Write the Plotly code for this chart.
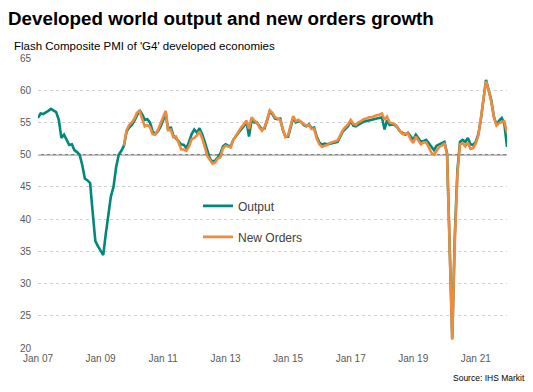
import pandas as pd
import plotly.graph_objects as go

# ---- data ----
output_start = "2007-01-01"
output_pmi = [
    55.7, 56.4, 56.3, 56.5, 56.8, 57.1, 56.9, 56.6, 55.4, 52.6, 53.1, 52.4,   # 2007
    51.5, 51.6, 50.7, 50.4, 50.0, 48.4, 46.3, 46.0, 45.6, 41.0, 36.6, 35.8,   # 2008
    35.0, 34.4, 37.5, 41.0, 43.5, 45.0, 48.0, 50.0, 50.6, 51.4, 53.6, 54.2,   # 2009
    54.6, 55.3, 56.0, 56.9, 56.3, 55.4, 55.5, 55.0, 53.6, 53.2, 53.6, 54.3,   # 2010
    55.3, 56.5, 53.8, 54.3, 53.0, 52.5, 52.0, 51.6, 51.5, 51.0, 52.0, 53.2,   # 2011
    53.9, 53.4, 54.1, 53.2, 52.0, 50.8, 49.4, 48.9, 49.1, 49.6, 50.2, 51.3,   # 2012
    51.6, 51.4, 51.3, 52.3, 52.9, 53.4, 53.9, 54.4, 55.1, 52.8, 55.4, 55.0,   # 2013
    55.0, 54.4, 53.9, 54.1, 55.3, 56.7, 56.3, 55.6, 55.5, 55.6, 53.8, 52.8,   # 2014
    52.8, 54.6, 55.7, 55.0, 55.2, 55.1, 54.6, 54.4, 54.7, 54.1, 54.2, 52.8,   # 2015
    51.9, 51.5, 51.7, 51.6, 51.7, 51.8, 51.9, 52.0, 52.8, 53.6, 54.0, 54.4,   # 2016
    55.2, 54.5, 54.4, 54.7, 54.9, 55.1, 55.2, 55.3, 55.4, 55.5, 55.6, 55.7,   # 2017
    55.8, 53.9, 55.3, 54.6, 54.7, 54.6, 54.2, 53.6, 53.3, 53.1, 53.4, 52.8,   # 2018
    52.3, 53.1, 52.6, 52.0, 52.1, 52.3, 51.8, 51.2, 50.7, 51.4, 51.6, 51.8,   # 2019
    52.0, 50.2, 37.3, 21.5, 37.3, 47.6, 52.0, 52.3, 52.0, 52.6, 51.6, 51.5,   # 2020
    52.0, 53.2, 55.4, 58.8, 61.6, 60.0, 58.5, 55.9, 54.6, 55.3, 55.7, 54.8,   # 2021
    51.2,                                                                     # 2022
]

orders_start = "2009-10-01"
new_orders_pmi = [
    51.4, 53.8, 54.6,                                                         # 2009
    55.0, 55.6, 56.5, 56.8, 55.6, 54.4, 54.6, 54.3, 53.2, 53.1, 53.8, 54.8,   # 2010
    55.8, 56.8, 53.8, 53.9, 52.7, 52.8, 51.9, 50.8, 50.8, 50.6, 51.3, 52.4,   # 2011
    52.6, 53.0, 53.6, 52.6, 51.3, 49.8, 49.2, 48.6, 48.8, 49.4, 49.6, 51.0,   # 2012
    51.4, 51.3, 51.1, 52.3, 53.0, 53.5, 54.2, 54.7, 55.3, 54.0, 55.8, 55.3,   # 2013
    55.0, 54.2, 53.7, 54.3, 55.4, 56.9, 56.5, 55.8, 55.6, 55.4, 53.9, 52.7,   # 2014
    53.0, 54.4, 56.0, 55.2, 55.4, 55.0, 54.8, 54.5, 54.6, 54.0, 54.0, 52.5,   # 2015
    51.6, 51.2, 51.4, 51.5, 51.8, 51.9, 52.1, 52.2, 53.0, 53.8, 54.3, 54.7,   # 2016
    55.4, 54.8, 54.6, 55.0, 55.2, 55.5, 55.6, 55.8, 55.8, 56.0, 56.1, 56.2,   # 2017
    56.4, 55.4, 55.9, 55.0, 54.8, 54.7, 54.3, 53.6, 53.2, 53.2, 53.3, 52.4,   # 2018
    51.8, 52.8, 52.2, 51.6, 51.9, 51.9, 51.2, 50.3, 50.0, 50.6, 51.2, 51.4,   # 2019
    51.8, 50.0, 35.8, 21.3, 36.5, 47.0, 51.6, 51.8, 51.3, 51.9, 50.9, 51.0,   # 2020
    51.7, 53.0, 55.6, 59.0, 61.4, 60.0, 58.2, 55.8, 54.5, 54.9, 55.0, 55.2,   # 2021
    53.4,                                                                     # 2022
]

tick_dates = ["2007-01-01", "2009-01-01", "2011-01-01", "2013-01-01",
              "2015-01-01", "2017-01-01", "2019-01-01", "2021-01-01"]
tick_labels = ["Jan 07", "Jan 09", "Jan 11", "Jan 13",
               "Jan 15", "Jan 17", "Jan 19", "Jan 21"]
y_ticks = [20, 25, 30, 35, 40, 45, 50, 55, 60, 65]
no_change_level = 50

output_dates = pd.date_range(output_start, periods=len(output_pmi), freq="MS")
orders_dates = pd.date_range(orders_start, periods=len(new_orders_pmi), freq="MS")

TEAL = "#00897b"
ORANGE = "#f08a3c"
FONT = "Liberation Sans, Arial, sans-serif"

# page body adds an 8px offset, so the figure is laid out 8px smaller
W, H = 525, 384
L, R, T, B = 27, 26, 50, 44
PW, PH = W - L - R, H - T - B

fig = go.Figure()
fig.add_trace(go.Scatter(x=output_dates, y=output_pmi, mode="lines", name="Output",
                         legendgroup="a", line=dict(color=TEAL, width=2.6)))
fig.add_trace(go.Scatter(x=orders_dates, y=new_orders_pmi, mode="lines", name="New Orders",
                         legendgroup="b", line=dict(color=ORANGE, width=2.6)))

fig.add_shape(type="line", xref="paper", x0=0, x1=1, yref="y",
              y0=no_change_level, y1=no_change_level,
              line=dict(color="#7f7f7f", width=1.5), layer="below")

fig.update_layout(
    width=W, height=H,
    margin=dict(l=L, r=R, t=T, b=B),
    paper_bgcolor="white", plot_bgcolor="white",
    font=dict(family=FONT, color="#595959", size=10),
    title=dict(text="<b>Developed world output and new orders growth</b>",
               font=dict(size=18.8, color="#000000", family=FONT),
               xref="container", x=0, xanchor="left",
               yref="container", y=1 - 10 / H, yanchor="middle"),
    showlegend=True,
    legend=dict(x=(188 - L) / PW, y=0.54, xanchor="left", yanchor="top",
                bgcolor="rgba(0,0,0,0)", tracegroupgap=12,
                font=dict(size=12, color="#404040"), itemwidth=30),
    xaxis=dict(range=["2007-01-01", "2022-01-01"], tickvals=tick_dates, ticktext=tick_labels,
               showgrid=False, showline=False, zeroline=False, ticks="",
               ticklabelstandoff=3,
               tickfont=dict(size=10, color="#595959")),
    yaxis=dict(range=[20, 65], tickvals=y_ticks, showgrid=True, gridcolor="#d0d0d0",
               griddash="dot", gridwidth=1, showline=False, zeroline=False, ticks="",
               ticklabelstandoff=6,
               tickfont=dict(size=10, color="#595959")),
    annotations=[
        dict(text="Flash Composite PMI of 'G4' developed economies", xref="paper", yref="paper",
             x=(1 - L) / PW, y=(H - B - 38) / PH, xanchor="left", yanchor="middle",
             showarrow=False, font=dict(size=11.5, color="#000000", family=FONT)),
        dict(text="Source: IHS Markit", xref="paper", yref="paper",
             x=(519 - L) / PW, y=(H - B - 370) / PH, xanchor="right", yanchor="middle",
             showarrow=False, font=dict(size=8.5, color="#000000", family=FONT)),
    ],
)

fig.write_html("out.html")
